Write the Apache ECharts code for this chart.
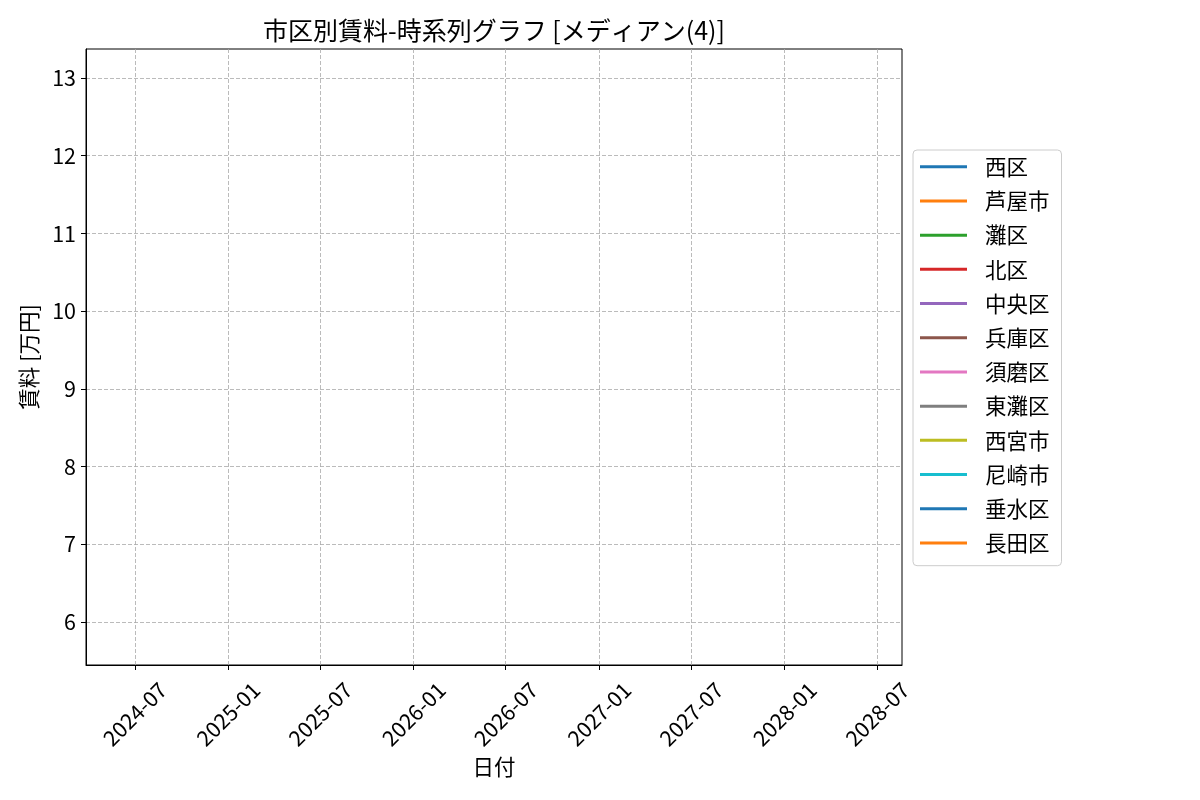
<!DOCTYPE html>
<html><head><meta charset="utf-8">
<script src="https://cdn.jsdelivr.net/npm/echarts@6/dist/echarts.min.js"></script>
<style>html,body{margin:0;padding:0;background:#fff}#c{width:1200px;height:800px}</style>
</head><body><div id="c"></div>
<script>
const seriesNames = ['西区','芦屋市','灘区','北区','中央区','兵庫区','須磨区','東灘区','西宮市','尼崎市','垂水区','長田区'];
const seriesColors = ['#1f77b4','#ff7f0e','#2ca02c','#d62728','#9467bd','#8c564b','#e377c2','#7f7f7f','#bcbd22','#17becf','#1f77b4','#ff7f0e'];
// no visible data in the reference: every series is empty
const seriesData = seriesNames.map(() => []);
const xTickLabels = ['2024-07','2025-01','2025-07','2026-01','2026-07','2027-01','2027-07','2028-01','2028-07'];
const yTicks = [6,7,8,9,10,11,12,13];
const xMin = '2024-03-27', xMax = '2028-08-19';
const yMin = 5.447, yMax = 13.373;

const FONT = '"Noto Sans CJK JP", "Noto Sans", sans-serif';
const toTs = s => Date.parse(s + 'T00:00:00Z');
const xTickValues = xTickLabels.map(s => toTs(s + '-01'));
const chart = echarts.init(document.getElementById('c'));
chart.setOption({
  animation: false,
  backgroundColor: '#fff',
  title: {
    text: '市区別賃料-時系列グラフ [メディアン(4)]',
    left: 489, top: 13, textAlign: 'center',
    textStyle: {fontFamily: FONT, fontSize: 25, fontWeight: 'normal', color: '#000'}
  },
  grid: {left: 86, right: 298, top: 49, bottom: 135, show: true, borderColor: '#000', borderWidth: 1, containLabel: false},
  legend: {
    orient: 'vertical', left: 913, top: 150,
    data: seriesNames.map(n => ({name: n, icon: 'rect'})),
    itemWidth: 47, itemHeight: 3, itemGap: 12.7,
    padding: [6, 12, 12, 7],
    borderColor: '#cccccc', borderWidth: 1, borderRadius: 4, backgroundColor: '#fff',
    textStyle: {fontFamily: FONT, fontSize: 21.5, color: '#000', padding: [0, 0, 0, 13]}
  },
  xAxis: {
    type: 'value', min: toTs(xMin), max: toTs(xMax),
    name: '日付', nameLocation: 'middle', nameGap: 90,
    nameTextStyle: {fontFamily: FONT, fontSize: 21.5, color: '#000'},
    axisLine: {show: true, onZero: false, lineStyle: {color: '#000', width: 1}},
    axisTick: {show: true, customValues: xTickValues, length: 5, lineStyle: {color: '#000'}},
    axisLabel: {
      customValues: xTickValues, rotate: 45, align: 'center', verticalAlign: 'middle', margin: 49,
      fontFamily: FONT, fontSize: 21.5, color: '#000',
      formatter: v => { const d = new Date(v); return d.getUTCFullYear() + '-' + String(d.getUTCMonth()+1).padStart(2,'0'); }
    },
    splitLine: {show: true, lineStyle: {color: '#aaaaaa', type: [4, 2], width: 0.8}}
  },
  yAxis: {
    type: 'value', min: yMin, max: yMax,
    name: '賃料 [万円]', nameLocation: 'middle', nameGap: 46,
    nameTextStyle: {fontFamily: FONT, fontSize: 21.5, color: '#000'},
    axisLine: {show: true, lineStyle: {color: '#000', width: 1}},
    axisTick: {show: true, customValues: yTicks, length: 5, lineStyle: {color: '#000'}},
    axisLabel: {customValues: yTicks, fontFamily: FONT, fontSize: 21.5, color: '#000', margin: 10},
    splitLine: {show: true, lineStyle: {color: '#aaaaaa', type: [4, 2], width: 0.8}}
  },
  series: seriesNames.map((n, i) => ({
    name: n, type: 'line', data: seriesData[i], showSymbol: false,
    itemStyle: {color: seriesColors[i]}, lineStyle: {color: seriesColors[i], width: 2.5}
  }))
});
</script></body></html>
